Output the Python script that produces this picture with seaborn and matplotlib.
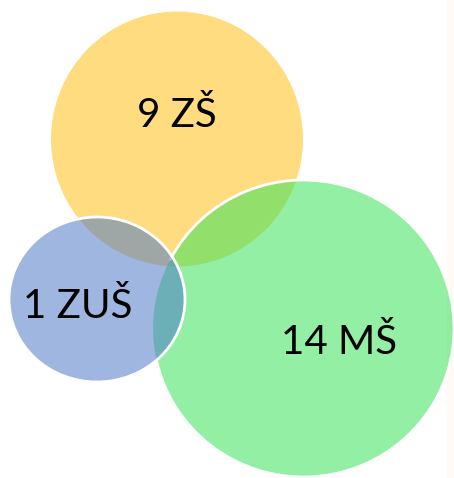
import matplotlib
matplotlib.use("Agg")
import matplotlib.pyplot as plt
from matplotlib.patches import Ellipse, Arc, Rectangle
import seaborn as sns

# data
counts = [9, 1, 14]
school_types = ["ZŠ", "ZUŠ", "MŠ"]

# layout (pixel-like coords, y up)
centers = [(177, 339), (97, 178.5), (303.5, 149.5)]
widths = [252, 176, 301]
heights = [255, 165, 297]
text_pos = [(177, 351), (78, 160), (339, 124)]
fills = [(1.0, 0.863, 0.498), (80 / 255, 124 / 255, 199 / 255), (64 / 255, 227 / 255, 94 / 255)]
alphas = [1.0, 0.55, 0.57]
layer = [1, 3, 2]  # yellow bottom, green middle, blue top

sns.set_theme(style="white")
plt.rcParams["font.family"] = ["Lato", "DejaVu Sans"]

fig = plt.figure(figsize=(4.54, 4.78), dpi=100)
ax = fig.add_axes([0, 0, 1, 1])
ax.set_xlim(0, 454)
ax.set_ylim(0, 478)
ax.axis("off")

# faint slide edge on the right
ax.add_patch(Rectangle((447, 0), 7, 478, color="#fffaf4", zorder=0, lw=0))

for i in range(3):
    ax.add_patch(Ellipse(centers[i], widths[i], heights[i], facecolor=fills[i],
                         alpha=alphas[i], lw=0, zorder=layer[i]))

# white outlines where they sit on top
ax.add_patch(Arc(centers[2], widths[2], heights[2], theta1=-168, theta2=153,
                 color="white", lw=2, zorder=2.5))
ax.add_patch(Ellipse(centers[1], widths[1], heights[1], fill=False,
                     edgecolor="white", lw=2, zorder=3.5))

for (x, y), n, lab in zip(text_pos, counts, school_types):
    ax.text(x, y, f"{n} {lab}", ha="center", va="baseline", fontsize=29,
            color="black", zorder=10)

fig.savefig("out.png", dpi=100)
